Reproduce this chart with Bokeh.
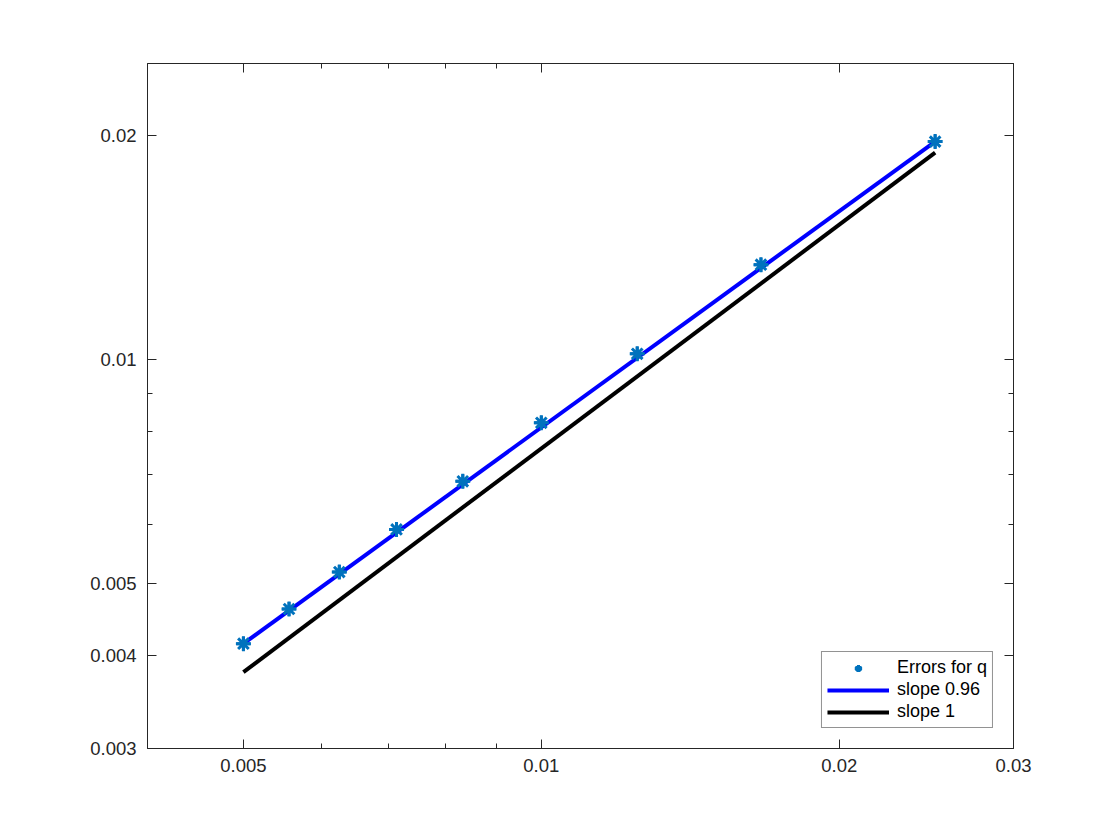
from bokeh.plotting import figure
from bokeh.models import (FixedTicker, LogAxis, CustomJSTickFormatter, Legend, LegendItem, Range1d)
from bokeh.embed import file_html
from bokeh.resources import INLINE

# ---- data ----
h = [0.005, 0.00556, 0.00625, 0.00714, 0.00833, 0.01, 0.0125, 0.01667, 0.025]
err_q = [0.00415, 0.00462, 0.00518, 0.00591, 0.00686, 0.00822, 0.01018, 0.01341, 0.01963]

fit_x = [0.005, 0.025]
fit_y = [0.00415, 0.01963]          # slope 0.96 line
ref_x = [0.005, 0.025]
ref_y = [0.00380, 0.01897]          # slope 1 line

x_major = [0.005, 0.01, 0.02, 0.03]
x_minor = [0.006, 0.007, 0.008, 0.009]
y_major = [0.003, 0.004, 0.005, 0.01, 0.02]
y_minor = [0.006, 0.007, 0.008, 0.009]

x_labels = {0.005: "0.005", 0.01: "0.01", 0.02: "0.02", 0.03: "0.03"}
y_labels = {0.003: "0.003", 0.004: "0.004", 0.005: "0.005", 0.01: "0.01", 0.02: "0.02"}

AX = "#262626"
FONT = "Liberation Sans"

p = figure(width=1112, height=832, x_axis_type="log", y_axis_type="log",
           x_range=Range1d(0.004, 0.03), y_range=Range1d(0.003, 0.025),
           output_backend="svg", toolbar_location=None,
           min_border_left=147, min_border_right=99, min_border_top=63, min_border_bottom=84)
p.background_fill_color = "white"
p.border_fill_color = "white"
p.outline_line_color = AX
p.outline_line_width = 1
p.xgrid.visible = False
p.ygrid.visible = False

def fmt(d):
    return CustomJSTickFormatter(args=dict(d={str(k): v for k, v in d.items()}),
                                 code="""
const keys = Object.keys(d);
for (const k of keys) { if (Math.abs(parseFloat(k) - tick) < 1e-9) return d[k]; }
return '';
""")

def style(ax, major, minor, labels):
    ax.ticker = FixedTicker(ticks=major, minor_ticks=minor)
    ax.axis_line_color = AX
    ax.major_tick_line_color = AX
    ax.minor_tick_line_color = AX
    ax.major_tick_in = 9
    ax.major_tick_out = 0
    ax.minor_tick_in = 5
    ax.minor_tick_out = 0
    ax.major_label_text_font = FONT
    ax.major_label_text_font_size = "18.5px"
    ax.major_label_text_color = AX
    if labels is None:
        ax.formatter = CustomJSTickFormatter(code="return '';")
        ax.major_label_text_font_size = "0px"
        ax.major_label_standoff = 0
    else:
        ax.formatter = fmt(labels)

style(p.xaxis[0], x_major, x_minor, x_labels)
p.xaxis[0].major_label_standoff = 10
style(p.yaxis[0], y_major, y_minor, y_labels)
p.yaxis[0].major_label_standoff = 11

top = LogAxis()
style(top, x_major, x_minor, None)
p.add_layout(top, "above")
right = LogAxis()
style(right, y_major, y_minor, None)
p.add_layout(right, "right")

r_fit = p.line(fit_x, fit_y, line_color="#0000FF", line_width=4)
r_ref = p.line(ref_x, ref_y, line_color="#000000", line_width=4)
m1 = p.scatter(h, err_q, marker="asterisk", size=15, line_width=3, line_color="#0072BD")
m2 = p.scatter(h, err_q, marker="cross", size=14, line_width=3, line_color="#0072BD")

legend = Legend(items=[
    LegendItem(label="Errors for q", renderers=[m1, m2]),
    LegendItem(label="slope 0.96", renderers=[r_fit]),
    LegendItem(label="slope 1", renderers=[r_ref]),
], location="bottom_right")
legend.margin = 20
legend.padding = 5
legend.spacing = 1
legend.glyph_width = 62
legend.glyph_height = 18
legend.label_height = 18
legend.label_standoff = 8
legend.label_text_font = FONT
legend.label_text_font_size = "18px"
legend.label_text_color = "#000000"
legend.border_line_color = AX
legend.border_line_width = 1
legend.background_fill_color = "white"
legend.background_fill_alpha = 1
p.add_layout(legend, "center")

open("out.html", "w").write(file_html(p, INLINE))
